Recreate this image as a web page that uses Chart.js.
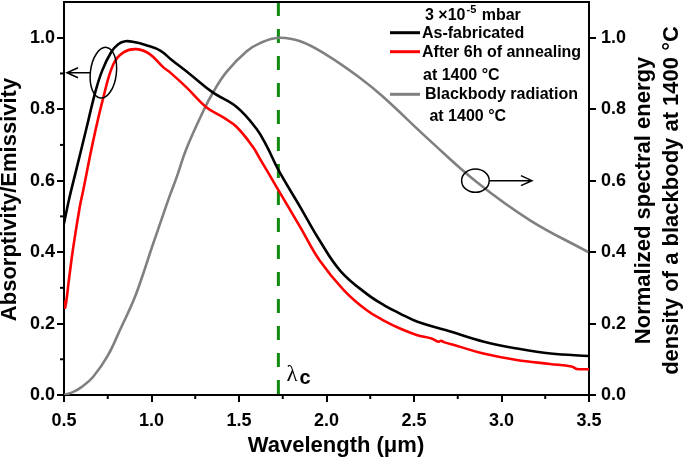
<!DOCTYPE html>
<html>
<head>
<meta charset="utf-8">
<script src="https://cdn.jsdelivr.net/npm/chart.js@4.4.1/dist/chart.umd.min.js"></script>
<style>
  body { margin: 0; background: #fff; }
  canvas { display: block; }
</style>
</head>
<body>
<canvas id="grafico" width="685" height="459"></canvas>
<script>
// datos
const lambdaNegro = [0.50, 0.53, 0.57, 0.63, 0.68, 0.72, 0.77, 0.81, 0.85, 0.90, 0.97, 1.05, 1.11, 1.22, 1.35, 1.49, 1.60, 1.66, 1.725, 1.85, 1.96, 2.08, 2.23, 2.33, 2.42, 2.52, 2.68, 2.90, 3.09, 3.28, 3.50];
const asFabricated = [0.48, 0.55, 0.63, 0.75, 0.85, 0.91, 0.96, 0.982, 0.99, 0.988, 0.979, 0.964, 0.94, 0.898, 0.847, 0.805, 0.745, 0.695, 0.63, 0.526, 0.433, 0.347, 0.283, 0.251, 0.228, 0.205, 0.182, 0.149, 0.13, 0.116, 0.109];

const lambdaRojo = [0.50, 0.507, 0.53, 0.553, 0.59, 0.61, 0.667, 0.725, 0.782, 0.84, 0.915, 0.99, 1.068, 1.106, 1.20, 1.315, 1.41, 1.487, 1.58, 1.62, 1.715, 1.85, 1.96, 2.10, 2.23, 2.325, 2.42, 2.515, 2.60, 2.64, 2.655, 2.67, 2.743, 2.896, 3.087, 3.277, 3.40, 3.43, 3.50];
const annealed = [0.265, 0.245, 0.33, 0.414, 0.526, 0.573, 0.712, 0.833, 0.926, 0.959, 0.968, 0.954, 0.917, 0.903, 0.861, 0.805, 0.777, 0.75, 0.694, 0.661, 0.582, 0.47, 0.377, 0.293, 0.237, 0.209, 0.186, 0.168, 0.158, 0.149, 0.152, 0.148, 0.138, 0.116, 0.098, 0.087, 0.080, 0.073, 0.072];

const lambdaGris = [0.50, 0.55, 0.60, 0.667, 0.75, 0.82, 0.90, 0.953, 1.00, 1.05, 1.106, 1.144, 1.20, 1.296, 1.353, 1.43, 1.544, 1.62, 1.725, 1.85, 2.00, 2.19, 2.32, 2.591, 2.858, 3.163, 3.496];
const blackbody = [0.0, 0.008, 0.022, 0.051, 0.11, 0.182, 0.268, 0.34, 0.41, 0.481, 0.56, 0.61, 0.69, 0.795, 0.848, 0.905, 0.962, 0.985, 1.0, 0.99, 0.952, 0.888, 0.836, 0.712, 0.596, 0.489, 0.40];

const lambdaC = 1.725;
const xTicks = [0.5, 1.0, 1.5, 2.0, 2.5, 3.0, 3.5];
const xMenores = [0.75, 1.25, 1.75, 2.25, 2.75, 3.25];
const yTicks = [0.0, 0.2, 0.4, 0.6, 0.8, 1.0];
const yMenores = [0.1, 0.3, 0.5, 0.7, 0.9];

const leyenda = [
    { texto: "As-fabricated", color: "#000000" },
    { texto: "After 6h of annealing", extra: "at 1400 \u00B0C", color: "#ff0000" },
    { texto: "Blackbody radiation", extra: " at 1400 \u00B0C", color: "#808080" }
];

const FUENTE = '"Liberation Sans", Arial, sans-serif';

function puntos(xs, ys) {
    return xs.map((x, i) => ({ x: x, y: ys[i] }));
}

const decoracion = {
    id: "decoracion",
    afterDraw(chart) {
        const ctx = chart.ctx;
        const a = chart.chartArea;
        const sx = chart.scales.x;
        const sy = chart.scales.y;
        ctx.save();

        // marco
        ctx.strokeStyle = "#000";
        ctx.lineWidth = 2;
        ctx.beginPath();
        ctx.moveTo(a.left, a.top);
        ctx.lineTo(a.right, a.top);
        ctx.stroke();

        // ticks menores
        yMenores.forEach(v => {
            const py = sy.getPixelForValue(v);
            ctx.beginPath();
            ctx.moveTo(a.left - 4, py);
            ctx.lineTo(a.left, py);
            ctx.stroke();
        });
        xMenores.forEach(v => {
            const px = sx.getPixelForValue(v);
            ctx.beginPath();
            ctx.moveTo(px, a.bottom);
            ctx.lineTo(px, a.bottom + 4);
            ctx.stroke();
        });

        // titulos de ejes
        ctx.fillStyle = "#000";
        ctx.font = "bold 22px " + FUENTE;
        ctx.textAlign = "center";
        ctx.textBaseline = "alphabetic";
        const cy = (a.top + a.bottom) / 2;
        ctx.save();
        ctx.translate(16, cy + 1);
        ctx.rotate(-Math.PI / 2);
        ctx.fillText("Absorptivity/Emissivity", 0, 0);
        ctx.restore();
        ctx.save();
        ctx.translate(650, cy + 2);
        ctx.rotate(-Math.PI / 2);
        ctx.fillText("Normalized spectral energy", 0, 0);
        ctx.restore();
        ctx.save();
        ctx.translate(678, cy + 2);
        ctx.rotate(-Math.PI / 2);
        ctx.fillText("density of a blackbody at 1400 \u00B0C", 0, 0);
        ctx.restore();
        ctx.fillText("Wavelength (\u03BCm)", 336, 452);

        // leyenda
        ctx.textAlign = "left";
        ctx.font = "bold 16px " + FUENTE;
        ctx.fillText("3 \u00D710", 425, 19.5);
        let w = ctx.measureText("3 \u00D710").width;
        ctx.font = "bold 11px " + FUENTE;
        ctx.fillText("-5", 425 + w + 1, 13);
        let w2 = ctx.measureText("-5").width;
        ctx.font = "bold 16px " + FUENTE;
        ctx.fillText(" mbar", 425 + w + w2 + 2, 19.5);

        const filas = [
            { linea: 32.7, base: 37.5, xt: 422 },
            { linea: 51.7, base: 57.3, xt: 422, base2: 80, xt2: 423 },
            { linea: 94.3, base: 99.3, xt: 425, base2: 120.7, xt2: 425 }
        ];
        leyenda.forEach((item, i) => {
            const f = filas[i];
            ctx.strokeStyle = item.color;
            ctx.lineWidth = 3;
            ctx.beginPath();
            ctx.moveTo(390, f.linea);
            ctx.lineTo(420, f.linea);
            ctx.stroke();
            ctx.fillText(item.texto, f.xt, f.base);
            if (item.extra) ctx.fillText(item.extra, f.xt2, f.base2);
        });

        // lambda c
        const lx = sx.getPixelForValue(lambdaC);
        ctx.font = "23px \"Liberation Serif\", serif";
        ctx.fillText("\u03BB", lx + 8, 381);
        ctx.font = "bold 20px " + FUENTE;
        ctx.fillText("c", lx + 21, 384);

        // elipses y flechas
        ctx.strokeStyle = "#000";
        ctx.lineWidth = 1.5;
        const e1x = sx.getPixelForValue(0.725), e1y = sy.getPixelForValue(0.902);
        ctx.beginPath();
        ctx.ellipse(e1x, e1y, 13, 25.5, 0.12, 0, Math.PI * 2);
        ctx.stroke();
        const t1 = sx.getPixelForValue(0.517);
        ctx.beginPath();
        ctx.moveTo(e1x - 13, e1y);
        ctx.lineTo(t1, e1y);
        ctx.moveTo(t1 + 11, e1y - 5);
        ctx.lineTo(t1, e1y);
        ctx.lineTo(t1 + 11, e1y + 5);
        ctx.stroke();

        const e2x = sx.getPixelForValue(2.851), e2y = sy.getPixelForValue(0.60);
        ctx.beginPath();
        ctx.ellipse(e2x, e2y, 13.8, 11.7, 0, 0, Math.PI * 2);
        ctx.stroke();
        const t2 = sx.getPixelForValue(3.174);
        ctx.beginPath();
        ctx.moveTo(e2x + 13.8, e2y);
        ctx.lineTo(t2, e2y);
        ctx.moveTo(t2 - 11, e2y - 5);
        ctx.lineTo(t2, e2y);
        ctx.lineTo(t2 - 11, e2y + 5);
        ctx.stroke();

        ctx.restore();
    }
};

const ejeY = {
    min: 0,
    max: 1.1,
    afterBuildTicks: scale => { scale.ticks = yTicks.map(v => ({ value: v })); },
    grid: { drawOnChartArea: false, drawTicks: true, tickLength: 7, color: "#000", lineWidth: 2 },
    border: { display: true, color: "#000", width: 2 },
    title: { display: false }
};

function fijarAncho(ancho) {
    return scale => {
        scale.width = ancho;
        scale.paddingTop = 0;
        scale.paddingBottom = 0;
    };
}

const ctx = document.getElementById("grafico").getContext("2d");
const chart = new Chart(ctx, {
    type: "line",
    data: {
        datasets: [
            {
                label: "As-fabricated",
                data: puntos(lambdaNegro, asFabricated),
                borderColor: "#000000",
                borderWidth: 2.6,
                pointRadius: 0,
                tension: 0.4,
                yAxisID: "y"
            },
            {
                label: "After 6h of annealing at 1400 °C",
                data: puntos(lambdaRojo, annealed),
                borderColor: "#ff0000",
                borderWidth: 2.6,
                pointRadius: 0,
                tension: 0.4,
                yAxisID: "y"
            },
            {
                label: "Blackbody radiation at 1400 °C",
                data: puntos(lambdaGris, blackbody),
                borderColor: "#808080",
                borderWidth: 2.6,
                pointRadius: 0,
                tension: 0.4,
                yAxisID: "y2"
            },
            {
                label: "lambda c",
                data: [{ x: lambdaC, y: 1.1 }, { x: lambdaC, y: 0 }],
                borderColor: "#118a11",
                borderWidth: 3,
                borderDash: [14, 13],
                pointRadius: 0,
                yAxisID: "y"
            }
        ]
    },
    options: {
        responsive: false,
        animation: false,
        layout: { padding: { top: 2, left: 0, right: 0, bottom: 0 } },
        plugins: {
            legend: { display: false },
            tooltip: { enabled: false }
        },
        scales: {
            x: {
                type: "linear",
                min: 0.5,
                max: 3.5,
                afterBuildTicks: scale => { scale.ticks = xTicks.map(v => ({ value: v })); },
                afterFit: scale => {
                    scale.height = 64;
                    scale.paddingLeft = 0;
                    scale.paddingRight = 0;
                },
                ticks: {
                    color: "#000",
                    font: { family: FUENTE, size: 18, weight: "bold" },
                    padding: 8,
                    maxRotation: 0,
                    callback: v => v.toFixed(1)
                },
                grid: { drawOnChartArea: false, drawTicks: true, tickLength: 7, color: "#000", lineWidth: 2 },
                border: { display: true, color: "#000", width: 2 }
            },
            y: Object.assign({}, ejeY, {
                position: "left",
                afterFit: fijarAncho(64),
                ticks: {
                    color: "#000",
                    font: { family: FUENTE, size: 18, weight: "bold" },
                    padding: 2,
                    callback: v => v.toFixed(1)
                }
            }),
            y2: Object.assign({}, ejeY, {
                position: "right",
                afterFit: fijarAncho(96),
                ticks: {
                    color: "#000",
                    font: { family: FUENTE, size: 18, weight: "bold" },
                    padding: 5,
                    callback: v => v.toFixed(1)
                }
            })
        }
    },
    plugins: [decoracion]
});
</script>
</body>
</html>
